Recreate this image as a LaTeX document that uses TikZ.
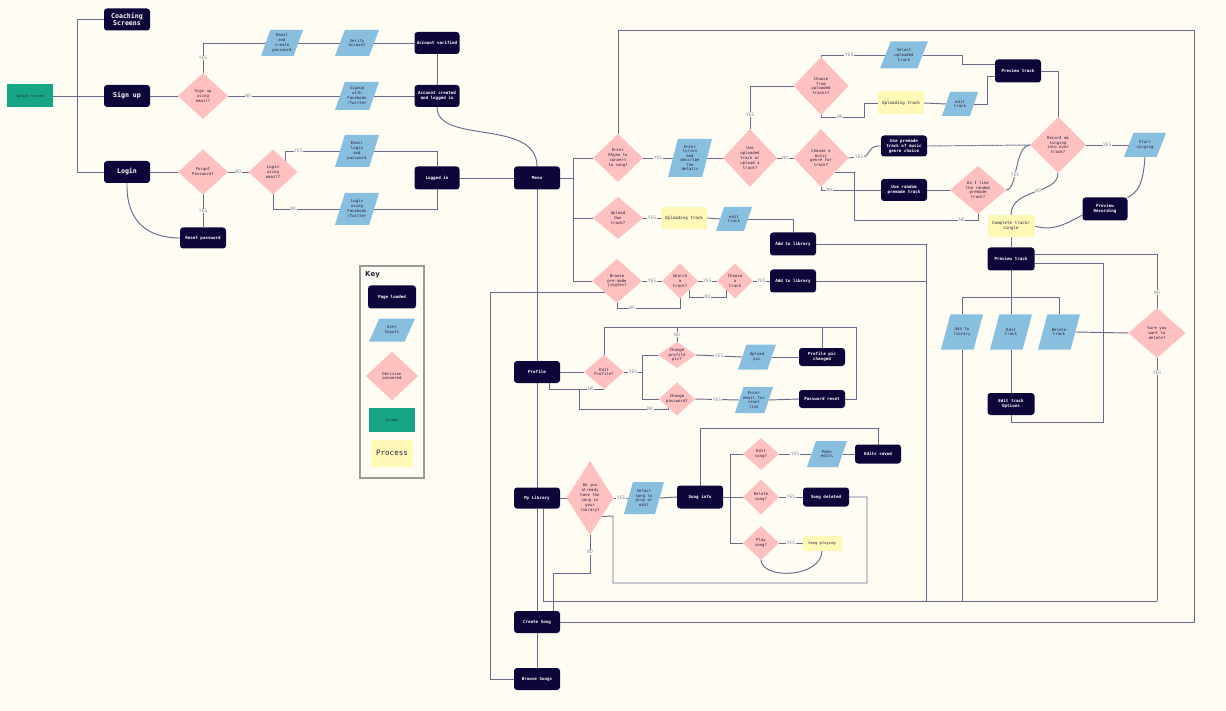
\documentclass[tikz,border=0pt]{standalone}
\usepackage{fontspec}
\setmainfont{DejaVu Sans Mono}
\newfontfamily\keyfont{DejaVu Sans}
\usetikzlibrary{shapes.geometric}
\definecolor{bgc}{HTML}{FFFCF4}
\definecolor{navy}{HTML}{0D0638}
\definecolor{ublue}{HTML}{89BFDE}
\definecolor{dpink}{HTML}{FFC0C0}
\definecolor{sgreen}{HTML}{17A684}
\definecolor{pyel}{HTML}{FFF8B6}
\definecolor{linec}{HTML}{6C6A8C}
\definecolor{txtc}{HTML}{2A2440}
\definecolor{lblc}{HTML}{8A8898}
\definecolor{keyc}{HTML}{9A9898}
\pgfdeclarelayer{back}
\pgfdeclarelayer{lines}
\pgfsetlayers{back,lines,main}
\tikzset{
  pg/.style={rectangle, rounded corners=3pt, fill=navy, text=white, font=\bfseries\fontsize{4.2}{5}\selectfont, align=center, minimum width=46pt, minimum height=22pt, inner sep=0pt, outer sep=0pt},
  ui/.style={trapezium, trapezium left angle=68, trapezium right angle=112, trapezium stretches=true, fill=ublue, minimum width=44pt, minimum height=26pt, inner sep=1pt, outer sep=0pt},
  dec/.style={diamond, fill=dpink, inner sep=0pt, outer sep=0pt, minimum width=50pt, minimum height=46pt},
  proc/.style={rectangle, fill=pyel, minimum width=46pt, minimum height=22pt, inner sep=0pt, outer sep=0pt, font=\fontsize{4.2}{5}\selectfont, text=txtc, align=center},
  dtx/.style={font=\fontsize{4}{4.9}\selectfont, text=txtc, align=center, inner sep=0pt},
  tx/.style={label={[dtx]center:{#1}}},
  txs/.style={label={[dtx, font=\fontsize{4}{4.4}\selectfont]center:{#1}}},
  ln/.style={draw=linec, line width=0.95pt},
  lbl/.style={font=\fontsize{4.6}{5}\selectfont, text=lblc, fill=bgc, inner sep=0.7pt},
  bigpg/.style={pg, font=\bfseries\fontsize{6.6}{7.6}\selectfont},
}
\begin{document}
\begin{tikzpicture}[x=1pt, y=-1pt]
\useasboundingbox (0,0) rectangle (1226,711);
\begin{pgfonlayer}{back}
\fill[bgc] (0,0) rectangle (1226,711);
\end{pgfonlayer}

% ---------- left part ----------
\node[rectangle, fill=sgreen, minimum width=46pt, minimum height=23pt, inner sep=0pt, outer sep=0pt, font=\fontsize{3.6}{4}\selectfont, text=txtc] (spl) at (30,96) {Splash screen};
\node[bigpg] (coach) at (127,19.5) {Coaching\\Screens};
\node[bigpg] (signup) at (127,96) {Sign up};
\node[bigpg] (login) at (127,172) {Login};
\node[dec, tx={Sign up\\using\\email?}] (dsu) at (203,96) {};
\node[ui, minimum width=42pt, tx={Email\\and\\create\\password}] (pemail) at (282,43) {};
\node[ui, tx={Verify\\Account}] (pverify) at (357,43) {};
\node[pg, minimum width=45pt] (accver) at (437,43) {Account verified};
\node[ui, minimum height=28pt, tx={Signup\\with\\Facebook\\/Twitter}] (pfb1) at (357,96) {};
\node[pg, minimum width=45pt] (acccr) at (437,96) {Account created\\and logged in};
\node[dec, minimum height=45pt, tx={Forgot\\Password?}] (dfp) at (203,172) {};
\node[dec, minimum width=49pt, minimum height=45pt, tx={Login\\using\\email?}] (dle) at (273,172) {};
\node[ui, minimum height=32pt, tx={Email\\login\\and\\password}] (pel) at (357,151) {};
\node[ui, minimum height=32pt, tx={Login\\using\\Facebook\\/Twitter}] (pfb2) at (357,209) {};
\node[pg, minimum height=21pt] (reset) at (203,238) {Reset password};
\node[pg, minimum width=45pt, minimum height=23pt] (loggedin) at (437,178) {Logged in};
\node[pg, minimum height=23pt] (menu) at (537,178) {Menu};

% ---------- create song branch ----------
\node[dec, minimum height=48pt, tx={Enter\\Rhyme to\\convert\\to song?}] (drh) at (618,158) {};
\node[ui, minimum height=38pt, txs={Enter\\lyrics\\and\\describe\\the\\details}] (plyr) at (690,158) {};
\node[dec, minimum width=54pt, minimum height=58pt, tx={Use\\uploaded\\track or\\upload a\\track?}] (dut) at (750,158) {};
\node[dec, minimum width=55pt, minimum height=58pt, tx={Choose a\\music\\genre for\\track?}] (dgen) at (821,158) {};
\node[dec, minimum width=55pt, minimum height=58pt, tx={Choose\\from\\uploaded\\tracks?}] (dcu) at (821,86) {};
\node[ui, minimum width=48pt, minimum height=27pt, tx={Select\\uploaded\\track}] (psel) at (904,55) {};
\node[proc, minimum height=23pt] (yupl1) at (901,103) {Uploading track};
\node[ui, minimum width=36pt, minimum height=24pt, tx={edit\\track}] (ped1) at (960,104) {};
\node[pg, minimum height=23pt] (prev1) at (1018,71) {Preview track};
\node[dec, minimum width=56pt, minimum height=56pt, tx={Record me\\singing\\into over\\track?}] (drec) at (1058,145) {};
\node[ui, minimum width=42pt, minimum height=24pt, tx={Start\\singing}] (psing) at (1145,145) {};
\node[pg, minimum width=45pt, minimum height=23pt] (prevrec) at (1105,209) {Preview\\Recording};
\node[proc, minimum width=47pt] (ycomp) at (1011,226) {Complete track/\\single};
\node[pg, minimum height=21pt] (bprem) at (904,146) {Use premade\\track of music\\genre choice};
\node[pg] (brand) at (904,190) {Use random\\premade track};
\node[dec, minimum width=56pt, minimum height=48pt, tx={Do I like\\the random\\premade\\track?}] (dlike) at (978,190) {};

% ---------- upload / browse ----------
\node[dec, minimum height=42pt, tx={Upload\\Own\\track?}] (dup) at (618,218) {};
\node[proc] (yupl2) at (684,218) {Uploading track};
\node[ui, minimum width=36pt, minimum height=24pt, tx={edit\\track}] (ped2) at (734,219) {};
\node[pg, minimum height=23pt] (addlib1) at (793,244) {Add to library};
\node[dec, minimum height=44pt, tx={Browse\\pre-made\\jingles?}] (dbr) at (617,281) {};
\node[dec, minimum width=36pt, minimum height=35pt, tx={Search\\a\\track?}] (dsr) at (680,281) {};
\node[dec, minimum width=36pt, minimum height=35pt, tx={Choose\\a\\track}] (dch) at (735,281) {};
\node[pg, minimum height=23pt] (addlib2) at (793,281) {Add to library};

% ---------- profile ----------
\node[pg] (profile) at (537,372) {Profile};
\node[dec, minimum width=40pt, minimum height=34pt, tx={Edit\\Profile?}] (dep) at (604,372) {};
\node[dec, minimum width=38pt, minimum height=26pt, txs={Change\\profile\\pic?}] (dcp) at (677,355) {};
\node[ui, minimum width=38pt, minimum height=25pt, tx={Upload\\pic}] (ppic) at (757,357) {};
\node[pg, minimum height=18pt] (picch) at (822,357) {Profile pic\\changed};
\node[dec, minimum width=36pt, minimum height=33pt, tx={Change\\password?}] (dpw) at (677,399) {};
\node[ui, minimum width=38pt, minimum height=26pt, txs={Enter\\email for\\reset\\link}] (prl) at (754,400) {};
\node[pg, minimum height=18pt] (pwreset) at (822,399) {Password reset};

% ---------- library ----------
\node[pg, minimum height=21pt] (mylib) at (537,498) {My Library};
\node[dec, minimum width=47pt, minimum height=74pt, tx={Do you\\already\\have the\\song in\\your\\library?}] (dlib) at (590,498) {};
\node[ui, minimum width=40pt, minimum height=32pt, tx={Select\\song to\\play or\\edit}] (pssel) at (644,498) {};
\node[pg, minimum height=23pt] (songinfo) at (700,497) {Song info};
\node[dec, minimum width=36pt, minimum height=32pt, tx={Edit\\song?}] (des) at (761,454) {};
\node[ui, minimum width=40pt, minimum height=26pt, tx={Make\\edits}] (pme) at (827,454) {};
\node[pg, minimum height=19pt] (edsaved) at (878,454) {Edits saved};
\node[dec, minimum width=36pt, minimum height=35pt, tx={Delete\\song?}] (dds) at (761,497) {};
\node[pg, minimum height=19pt] (songdel) at (826,497) {Song deleted};
\node[dec, minimum width=36pt, minimum height=34pt, tx={Play\\song?}] (dps) at (761,543) {};
\node[proc, minimum width=39pt, minimum height=15pt, font=\fontsize{3.8}{4.5}\selectfont] (yplay) at (822,543) {Song playing};
\node[pg] (create) at (537,622) {Create Song};
\node[pg] (browse) at (537,679) {Browse Songs};

% ---------- preview track group ----------
\node[pg, minimum width=47pt, minimum height=23pt] (prev2) at (1011,259) {Preview track};
\node[ui, minimum width=42pt, minimum height=35pt, tx={Add to\\library}] (pal) at (962,332) {};
\node[ui, minimum width=42pt, minimum height=35pt, tx={Edit\\track}] (pet) at (1011,332) {};
\node[ui, minimum width=42pt, minimum height=35pt, tx={Delete\\track}] (pdt) at (1059,332) {};
\node[pg, minimum width=47pt] (etopt) at (1011,404) {Edit track\\Options};
\node[dec, minimum width=57pt, minimum height=50pt, tx={Sure you\\want to\\delete?}] (dsure) at (1157,333) {};

% ---------- key ----------
\node[rectangle, draw=keyc, line width=1.2pt, minimum width=64pt, minimum height=212pt, inner sep=0pt] (keybox) at (392,372) {};
\node[anchor=west, font=\keyfont\bfseries\fontsize{7}{8}\selectfont, text=txtc, inner sep=0pt] (keyt) at (365,275) {Key};
\node[pg, minimum width=48pt, minimum height=23pt] (kpg) at (392,297) {Page loaded};
\node[ui, minimum width=46pt, minimum height=23pt, tx={User\\Inputs}] (kui) at (392,330) {};
\node[dec, minimum width=52pt, minimum height=49pt, tx={Decision\\answered}] (kdec) at (392,376) {};
\node[rectangle, fill=sgreen, minimum width=46pt, minimum height=24pt, inner sep=0pt, font=\fontsize{3.6}{4}\selectfont, text=txtc] (kscr) at (392,420) {Screen};
\node[proc, minimum width=42pt, minimum height=27pt, font=\fontsize{7.5}{8}\selectfont] (kproc) at (392,453) {Process};

% ---------- connectors ----------
\begin{pgfonlayer}{lines}
% left
\draw[ln] (spl.east) -- (signup.west);
\draw[ln] (coach.west) -| (77,172) -- (login.west);
\draw[ln] (signup.east) -- (dsu.west);
\draw[ln] (dsu.north) -- node[lbl, pos=0.5]{YES} (203,43) -- (pemail.west);
\draw[ln] (pemail.east) -- (pverify.west);
\draw[ln] (pverify.east) -- (accver.west);
\draw[ln] (dsu.east) -- node[lbl, pos=0.18]{NO} (pfb1.west);
\draw[ln] (pfb1.east) -- (acccr.west);
\draw[ln] (accver.south) -- (acccr.north);
\draw[ln] (acccr.south) .. controls (437,145) and (537,118) .. (menu.north);
\draw[ln] (login.east) -- (dfp.west);
\draw[ln] (dfp.east) -- node[lbl]{NO} (dle.west);
\draw[ln] (dfp.south) -- node[lbl]{YES} (reset.north);
\draw[ln] (login.south) .. controls (126,222) and (148,238) .. (reset.west);
\draw[ln] (dle.north east) |- node[lbl, pos=0.62]{YES} (pel.west);
\draw[ln] (dle.south) |- node[lbl, pos=0.65]{NO} (pfb2.west);
\draw[ln] (pel.east) -| (loggedin.north);
\draw[ln] (pfb2.east) -| (loggedin.south);
\draw[ln] (loggedin.east) -- (menu.west);
% menu
\draw[ln] (menu.east) -- (573,178);
\draw[ln] (drh.west) -| (573,281) -- (dbr.west);
\draw[ln] (573,218) -- (dup.west);
\draw[ln] (menu.south) -- (profile.north);
\draw[ln] (profile.south) -- (mylib.north);
\draw[ln] (mylib.south) -- (create.north);
\draw[ln] (create.south) -- (browse.north);
% big loop
\draw[ln] (drh.north) |- (1194,30) |- (create.east);
% create song
\draw[ln] (drh.east) -- node[lbl]{YES} (plyr.west);
\draw[ln] (plyr.east) -- (dut.west);
\draw[ln] (dut.east) -- node[lbl]{NO} (dgen.west);
\draw[ln] (dut.north) -- node[lbl, pos=0.33]{YES} (750,86) -- (dcu.west);
\draw[ln] (dcu.north) |- node[lbl, pos=0.72]{YES} (psel.west);
\draw[ln] (dcu.south) |- node[lbl, pos=0.72]{NO} (864,117) |- (yupl1.west);
\draw[ln] (yupl1.east) -- (ped1.west);
\draw[ln] (ped1.east) -| (987,76) -- ([yshift=-5pt]prev1.west);
\draw[ln] (psel.east) -| (962,64) -- ([yshift=7pt]prev1.west);
\draw[ln] (prev1.east) -| (drec.north);
\draw[ln] (drec.east) -- node[lbl]{YES} (psing.west);
\draw[ln] (psing.south) .. controls (1143,185) and (1138,192) .. (prevrec.north east);
\draw[ln] ([yshift=-6pt]prevrec.west) .. controls (1062,226) and (1052,231) .. (ycomp.east);
\draw[ln] (drec.south) .. controls (1058,195) and (1011,188) .. node[lbl, pos=0.45]{NO} (ycomp.north);
\draw[ln] (ycomp.south) -- (prev2.north);
\draw[ln] (dgen.east) -- node[lbl, pos=0.6]{YES} (866,156) .. controls (873,146) .. (bprem.west);
\draw[ln, dash pattern=on 1.2pt off 0.5pt] (bprem.east) -- (drec.west);
\draw[ln] (dgen.south) |- node[lbl, pos=0.57]{NO} (brand.west);
\draw[ln] (brand.east) -- (dlike.west);
\draw[ln] (dlike.east) .. controls (1018,190) and (1014,146) .. node[lbl, pos=0.4]{YES} (drec.west);
\draw[ln] (dlike.south) |- node[lbl, pos=0.565]{NO} (854,220) |- (dgen.south east);
% upload
\draw[ln] (dup.east) -- node[lbl]{YES} (yupl2.west);
\draw[ln] (yupl2.east) -- (ped2.west);
\draw[ln] (ped2.east) -| (addlib1.north);
\draw[ln] (addlib1.east) -| (926,601);
\draw[ln] (addlib2.east) -- (926,281);
% browse
\draw[ln] (dbr.east) -- node[lbl]{YES} (dsr.west);
\draw[ln] (dsr.east) -- node[lbl]{YES} (dch.west);
\draw[ln] (dch.east) -- node[lbl]{YES} (addlib2.west);
\draw[ln] (dsr.south east) -- (689,297) -- node[lbl]{NO} (726,297) -- (dch.south west);
\draw[ln] (dbr.south) |- node[lbl, pos=0.62]{NO} (680,308) -- (dsr.south);
\draw[ln] (dbr.south west) -| (490,679) -- (browse.west);
% profile
\draw[ln] (profile.east) -- (dep.west);
\draw[ln] (dep.east) -- node[lbl]{YES} (642,372);
\draw[ln] (dcp.west) -| (642,399) -- (dpw.west);
\draw[ln] (dcp.east) -- node[lbl]{YES} (ppic.west);
\draw[ln] (ppic.east) -- (picch.west);
\draw[ln] (dpw.east) -- node[lbl]{YES} (prl.west);
\draw[ln] (prl.east) -- (pwreset.west);
\draw[ln] (dep.north) |- (856,327) |- (pwreset.east);
\draw[ln] (dcp.north) -- node[lbl]{NO} (677,327);
\draw[ln] (picch.north) -- (822,327);
\draw[ln] ([xshift=12pt]profile.south) |- node[lbl, pos=0.88]{NO} (dep.south);
\draw[ln] (dpw.south west) |- node[lbl, pos=0.6]{NO} (579,409) -- (579,389);
% library
\draw[ln] (mylib.east) -- (dlib.west);
\draw[ln] (dlib.east) -- node[lbl]{YES} (pssel.west);
\draw[ln] (pssel.east) -- (songinfo.west);
\draw[ln] (songinfo.east) -- (dds.west);
\draw[ln] (des.west) -| (730,543) -- (dps.west);
\draw[ln] (des.east) -- node[lbl]{YES} (pme.west);
\draw[ln] (pme.east) -- (edsaved.west);
\draw[ln] (songinfo.north) -- (700,428) -| (edsaved.north);
\draw[ln] (dds.east) -- node[lbl]{YES} (songdel.west);
\draw[ln] (songdel.east) -| (867,583) -| (613,516) -- (dlib.south east);
\draw[ln] (dps.east) -- node[lbl]{YES} (yplay.west);
\draw[ln] (yplay.south) .. controls (822,578) and (762,580) .. (dps.south);
\draw[ln] (dlib.south) -- node[lbl, pos=0.45]{NO} (590,573) -| ([xshift=16pt]create.north);
\draw[ln] ([xshift=6pt]mylib.south) |- (1157,601);
% preview track group
\draw[ln] (prev2.south) -- (pet.north);
\draw[ln] (pal.north) -- (962,297) -| (pdt.north);
\draw[ln] (pet.south) -- (etopt.north);
\draw[ln] (pal.south) -- (962,601);
\draw[ln] (pdt.east) -- (dsure.west);
\draw[ln] ([yshift=5pt]prev2.east) -| node[lbl, pos=0.86]{NO} (dsure.north);
\draw[ln] ([yshift=-4pt]prev2.east) -| (1103,422) -| (etopt.south);
\draw[ln] (dsure.south) -- node[lbl, pos=0.06]{YES} (1157,601);
\end{pgfonlayer}
\end{tikzpicture}
\end{document}
